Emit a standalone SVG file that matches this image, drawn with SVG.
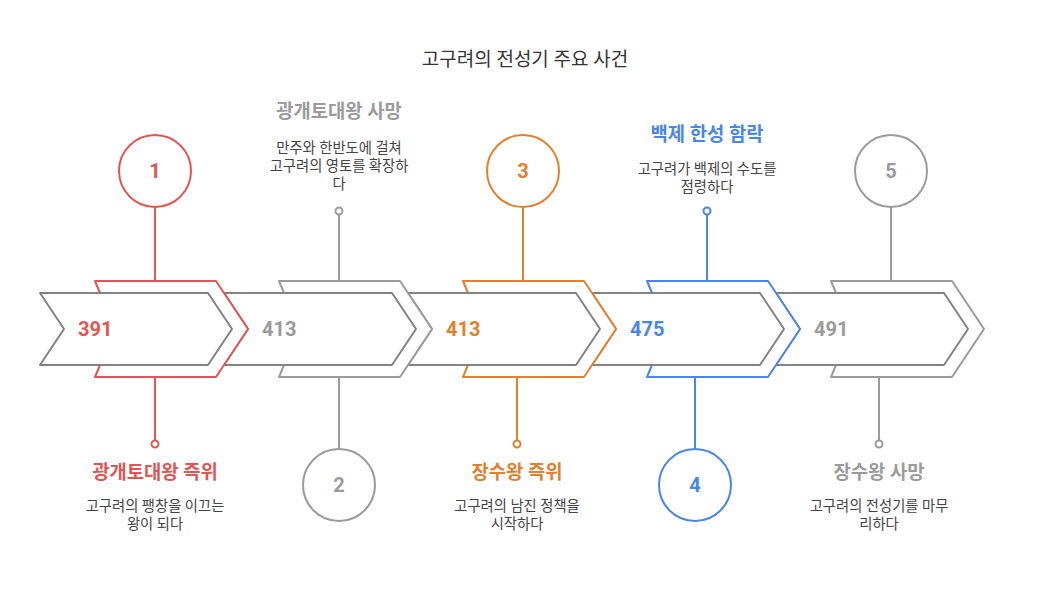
<svg xmlns="http://www.w3.org/2000/svg" width="1047" height="610" viewBox="0 0 1047 610">
<style>
text{font-family:Roboto,"Noto Sans CJK KR","Noto Sans",sans-serif}
.title{font-size:19px;fill:#333;text-anchor:middle}
.lbl{font-size:18.8px;font-weight:bold;text-anchor:middle}
.desc{font-size:14.3px;fill:#444;text-anchor:middle}
.num{font-size:20px;font-weight:bold}
.cnum{font-size:20px;font-weight:bold;text-anchor:middle}
.inner{fill:#fff;stroke:#828282;stroke-width:2;stroke-linejoin:round}
.outer{fill:#fff;stroke-width:2;stroke-linejoin:round}
.ln{stroke-width:2;fill:none}
.dot{fill:#fff;stroke-width:2}
.circ{fill:#fff;stroke-width:2}
</style>
<text class="title" x="525" y="66">고구려의 전성기 주요 사건</text>
<g id="chevrons">
<path class="outer" stroke="#9b9b9b" d="M831,281H952L984,329L952,377H831L851,329Z"/>
<path class="inner" d="M776,293H944L968,329L944,365H776L800,329Z"/>
<path class="outer" stroke="#4a86e5" d="M647,281H768L800,329L768,377H647L667,329Z"/>
<path class="inner" d="M592,293H760L784,329L760,365H592L616,329Z"/>
<path class="outer" stroke="#e0812f" d="M463,281H584L616,329L584,377H463L483,329Z"/>
<path class="inner" d="M408,293H576L600,329L576,365H408L432,329Z"/>
<path class="outer" stroke="#9b9b9b" d="M279,281H400L432,329L400,377H279L299,329Z"/>
<path class="inner" d="M224,293H392L416,329L392,365H224L248,329Z"/>
<path class="outer" stroke="#e05555" d="M95,281H216L248,329L216,377H95L115,329Z"/>
<path class="inner" d="M40,293H208L232,329L208,365H40L64,329Z"/>
</g>
<g id="connectors">
<line class="ln" stroke="#e05555" x1="155" y1="207" x2="155" y2="281"/>
<line class="ln" stroke="#e05555" x1="155" y1="377" x2="155" y2="440.5"/>
<line class="ln" stroke="#9b9b9b" x1="339" y1="214.5" x2="339" y2="281"/>
<line class="ln" stroke="#9b9b9b" x1="339" y1="377" x2="339" y2="449"/>
<line class="ln" stroke="#e0812f" x1="523" y1="207" x2="523" y2="281"/>
<line class="ln" stroke="#e0812f" x1="517" y1="377" x2="517" y2="440.5"/>
<line class="ln" stroke="#4a86e5" x1="707" y1="214.5" x2="707" y2="281"/>
<line class="ln" stroke="#4a86e5" x1="695" y1="377" x2="695" y2="449"/>
<line class="ln" stroke="#9b9b9b" x1="891" y1="207" x2="891" y2="281"/>
<line class="ln" stroke="#9b9b9b" x1="879" y1="377" x2="879" y2="440.5"/>
</g>
<g id="step1">
<text class="num" x="78" y="336" fill="#e05555">391</text>
<circle class="circ" cx="155" cy="171" r="36" stroke="#e05555"/>
<text class="cnum" x="155" y="178" fill="#e05555">1</text>
<circle class="dot" cx="155" cy="444" r="3.5" stroke="#e05555"/>
<text class="lbl" x="155" y="479" fill="#e05555">광개토대왕 즉위</text>
<text class="desc" x="155" y="511">고구려의 팽창을 이끄는</text>
<text class="desc" x="155" y="529">왕이 되다</text>
</g>
<g id="step2">
<text class="num" x="262" y="336" fill="#9b9b9b">413</text>
<circle class="circ" cx="339" cy="485" r="36" stroke="#9b9b9b"/>
<text class="cnum" x="339" y="492" fill="#9b9b9b">2</text>
<circle class="dot" cx="339" cy="211" r="3.5" stroke="#9b9b9b"/>
<text class="lbl" x="339" y="118" fill="#9b9b9b">광개토대왕 사망</text>
<text class="desc" x="339" y="153">만주와 한반도에 걸쳐</text>
<text class="desc" x="339" y="171">고구려의 영토를 확장하</text>
<text class="desc" x="339" y="189">다</text>
</g>
<g id="step3">
<text class="num" x="446" y="336" fill="#e0812f">413</text>
<circle class="circ" cx="523" cy="171" r="36" stroke="#e0812f"/>
<text class="cnum" x="523" y="178" fill="#e0812f">3</text>
<circle class="dot" cx="517" cy="444" r="3.5" stroke="#e0812f"/>
<text class="lbl" x="517" y="479" fill="#e0812f">장수왕 즉위</text>
<text class="desc" x="517" y="511">고구려의 남진 정책을</text>
<text class="desc" x="517" y="529">시작하다</text>
</g>
<g id="step4">
<text class="num" x="630" y="336" fill="#4a86e5">475</text>
<circle class="circ" cx="695" cy="485" r="36" stroke="#4a86e5"/>
<text class="cnum" x="695" y="492" fill="#4a86e5">4</text>
<circle class="dot" cx="707" cy="211" r="3.5" stroke="#4a86e5"/>
<text class="lbl" x="707" y="141" fill="#4a86e5">백제 한성 함락</text>
<text class="desc" x="707" y="174">고구려가 백제의 수도를</text>
<text class="desc" x="707" y="192">점령하다</text>
</g>
<g id="step5">
<text class="num" x="814" y="336" fill="#9b9b9b">491</text>
<circle class="circ" cx="891" cy="171" r="36" stroke="#9b9b9b"/>
<text class="cnum" x="891" y="178" fill="#9b9b9b">5</text>
<circle class="dot" cx="879" cy="444" r="3.5" stroke="#9b9b9b"/>
<text class="lbl" x="879" y="479" fill="#9b9b9b">장수왕 사망</text>
<text class="desc" x="879" y="511">고구려의 전성기를 마무</text>
<text class="desc" x="879" y="529">리하다</text>
</g>
</svg>
